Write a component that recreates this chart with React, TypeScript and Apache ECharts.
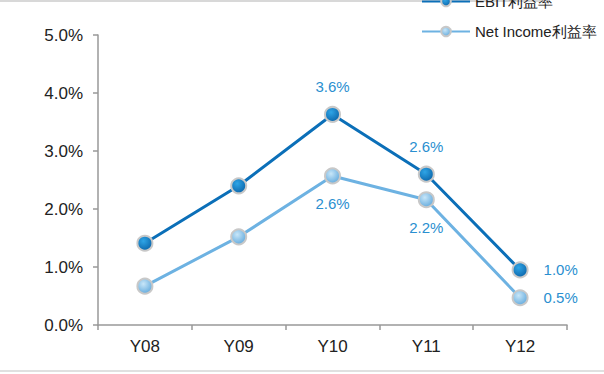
import React, { useEffect, useRef } from "react";
import * as echarts from "echarts";

const categories = ["Y08", "Y09", "Y10", "Y11", "Y12"];
const ebitMargin = [1.41, 2.4, 3.63, 2.6, 0.95];
const netMargin = [0.67, 1.52, 2.57, 2.16, 0.47];
const ebitLabels = ["", "", "3.6%", "2.6%", "1.0%"];
const netLabels = ["", "", "2.6%", "2.2%", "0.5%"];
const yTicks = [0, 1, 2, 3, 4, 5];

const FONT = "Liberation Sans, Arial, sans-serif";

function ball(c1: string, c2: string) {
  return new echarts.graphic.RadialGradient(0.4, 0.35, 0.7, [
    { offset: 0, color: c1 },
    { offset: 1, color: c2 },
  ]);
}

export default function App() {
  const ref = useRef<HTMLDivElement>(null);
  useEffect(() => {
    if (!ref.current) return;
    const chart = echarts.init(ref.current, undefined, { renderer: "svg" });
    const ebitPos = ["top", "top", "top", "top", "right"];
    const netPos = ["bottom", "bottom", "bottom", "bottom", "right"];
    const mk = (vals: number[], labels: string[], pos: string[]) =>
      vals.map((v, i) => ({
        value: v,
        label: {
          show: labels[i] !== "",
          formatter: labels[i],
          position: pos[i],
          distance: pos[i] === "right" ? 15 : 12,
        },
      }));
    chart.setOption({
      animation: false,
      textStyle: { fontFamily: FONT },
      grid: { left: 98, right: 37, top: 35, bottom: 49 },
      legend: {
        orient: "vertical",
        left: 416,
        top: -11,
        itemWidth: 48,
        itemHeight: 12,
        itemGap: 15,
        textStyle: { fontSize: 15, color: "#222", fontFamily: FONT },
        data: ["EBIT利益率", "Net Income利益率"],
      },
      xAxis: {
        type: "category",
        data: categories,
        boundaryGap: true,
        axisLine: { lineStyle: { color: "#999", width: 1.5 } },
        axisTick: { show: true, length: 5, lineStyle: { color: "#999", width: 1.5 } },
        axisLabel: { fontSize: 17, color: "#222", margin: 13, fontFamily: FONT },
      },
      yAxis: {
        type: "value",
        min: yTicks[0],
        max: yTicks[yTicks.length - 1],
        interval: 1,
        axisLine: { show: true, lineStyle: { color: "#999", width: 1.5 } },
        axisTick: { show: true, length: 5, lineStyle: { color: "#999", width: 1.5 } },
        splitLine: { show: false },
        axisLabel: {
          fontSize: 17,
          color: "#222",
          margin: 15,
          fontFamily: FONT,
          formatter: (v: number) => v.toFixed(1) + "%",
        },
      },
      series: [
        {
          name: "EBIT利益率",
          type: "line",
          data: mk(ebitMargin, ebitLabels, ebitPos),
          lineStyle: { color: "#0B6FB8", width: 3 },
          symbol: "circle",
          symbolSize: 15,
          itemStyle: {
            color: ball("#2FA5E6", "#0A63A8"),
            borderColor: "#c8c8c8",
            borderWidth: 2,
          },
          label: { color: "#2A8FD0", fontSize: 15, fontFamily: FONT },
        },
        {
          name: "Net Income利益率",
          type: "line",
          data: mk(netMargin, netLabels, netPos),
          lineStyle: { color: "#6DB2E2", width: 3 },
          symbol: "circle",
          symbolSize: 15,
          itemStyle: {
            color: ball("#C8E6F8", "#5FA8DC"),
            borderColor: "#c8c8c8",
            borderWidth: 2,
          },
          label: { color: "#2A8FD0", fontSize: 15, fontFamily: FONT },
        },
      ],
      graphic: [
        { type: "line", shape: { x1: 0, y1: 1, x2: 543, y2: 1 }, style: { stroke: "#d8d8d8", lineWidth: 2 } },
        { type: "line", shape: { x1: 0, y1: 371, x2: 604, y2: 371 }, style: { stroke: "#e0e0e0", lineWidth: 2 } },
      ],
    });
    return () => chart.dispose();
  }, []);
  return <div ref={ref} style={{ width: 604, height: 374, position: "absolute", left: 0, top: 0 }} />;
}
